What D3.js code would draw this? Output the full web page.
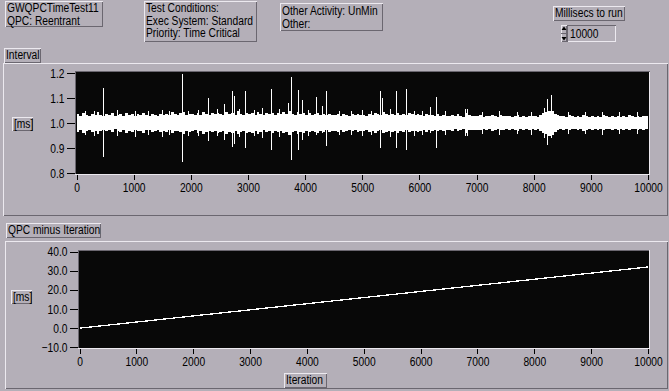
<!DOCTYPE html>
<html>
<head>
<meta charset="utf-8">
<script src="https://cdnjs.cloudflare.com/ajax/libs/d3/7.8.5/d3.min.js"></script>
<style>
  body { margin: 0; background: #b4afb8; }
  svg text { font-family: "Liberation Sans", Arial, sans-serif; font-size: 12.5px; fill: #000; }
</style>
</head>
<body>
<svg id="panel" width="669" height="391"></svg>
<script>
// ---- chart values ----
var iterTicks = [0, 1000, 2000, 3000, 4000, 5000, 6000, 7000, 8000, 9000, 10000];
var intervalTicks = [0.8, 0.9, 1.0, 1.1, 1.2];
var qpcTicks = [-10, 0, 10, 20, 30, 40];

// noise band of the Interval trace, one high/low pair per 50 iterations
var bandStep = 50;
var bandHigh = [
  1.036,1.030,1.041,1.033,1.028,1.038,1.032,1.044,1.034,1.029,
  1.035,1.031,1.039,1.027,1.034,1.037,1.030,1.042,1.033,1.036,
  1.029,1.035,1.032,1.040,1.031,1.028,1.037,1.033,1.030,1.036,
  1.034,1.038,1.031,1.043,1.035,1.032,1.039,1.046,1.033,1.037,
  1.035,1.031,1.040,1.034,1.044,1.036,1.032,1.039,1.035,1.041,
  1.038,1.033,1.045,1.036,1.041,1.034,1.047,1.037,1.032,1.042,
  1.036,1.040,1.033,1.044,1.037,1.031,1.039,1.035,1.042,1.034,
  1.039,1.035,1.043,1.036,1.048,1.038,1.033,1.044,1.037,1.041,
  1.034,1.039,1.032,1.037,1.042,1.033,1.038,1.031,1.036,1.034,
  1.032,1.036,1.030,1.038,1.033,1.029,1.035,1.031,1.037,1.033,
  1.034,1.030,1.037,1.033,1.040,1.035,1.031,1.043,1.036,1.032,
  1.038,1.034,1.041,1.033,1.036,1.031,1.039,1.035,1.032,1.037,
  1.033,1.029,1.036,1.031,1.034,1.030,1.035,1.028,1.032,1.030,
  1.029,1.032,1.027,1.035,1.030,1.026,1.040,1.031,1.028,1.030,
  1.028,1.031,1.026,1.030,1.027,1.033,1.029,1.025,1.031,1.028,
  1.027,1.030,1.025,1.029,1.032,1.026,1.028,1.024,1.030,1.027,
  1.029,1.026,1.033,1.040,1.046,1.050,1.048,1.038,1.031,1.027,
  1.029,1.025,1.031,1.027,1.024,1.030,1.026,1.032,1.028,1.025,
  1.030,1.026,1.029,1.024,1.031,1.027,1.025,1.030,1.026,1.028,
  1.025,1.029,1.026,1.031,1.027,1.024,1.030,1.026,1.029,1.027];
var bandLow = [
  0.966,0.972,0.962,0.969,0.974,0.964,0.970,0.958,0.968,0.973,
  0.967,0.971,0.963,0.975,0.968,0.965,0.972,0.960,0.969,0.966,
  0.973,0.967,0.970,0.962,0.971,0.974,0.965,0.969,0.972,0.966,
  0.968,0.964,0.971,0.959,0.967,0.970,0.963,0.956,0.969,0.965,
  0.967,0.971,0.962,0.968,0.958,0.966,0.970,0.963,0.967,0.961,
  0.964,0.969,0.957,0.966,0.961,0.968,0.955,0.965,0.970,0.960,
  0.966,0.962,0.969,0.958,0.965,0.971,0.963,0.967,0.960,0.968,
  0.963,0.967,0.959,0.966,0.954,0.964,0.969,0.958,0.965,0.961,
  0.968,0.963,0.970,0.965,0.960,0.969,0.964,0.971,0.966,0.968,
  0.970,0.966,0.972,0.964,0.969,0.973,0.967,0.971,0.965,0.969,
  0.968,0.972,0.965,0.969,0.962,0.967,0.971,0.959,0.966,0.970,
  0.964,0.968,0.961,0.969,0.966,0.971,0.963,0.967,0.970,0.965,
  0.969,0.973,0.966,0.971,0.968,0.972,0.967,0.974,0.970,0.972,
  0.973,0.970,0.975,0.967,0.972,0.976,0.962,0.971,0.974,0.972,
  0.974,0.971,0.976,0.972,0.975,0.969,0.973,0.977,0.971,0.974,
  0.975,0.972,0.977,0.973,0.970,0.976,0.974,0.978,0.972,0.975,
  0.973,0.976,0.969,0.962,0.955,0.950,0.953,0.963,0.971,0.975,
  0.973,0.977,0.971,0.975,0.978,0.972,0.976,0.970,0.974,0.977,
  0.972,0.976,0.973,0.978,0.971,0.975,0.977,0.972,0.976,0.974,
  0.977,0.973,0.976,0.971,0.975,0.978,0.972,0.976,0.973,0.975];

// single-iteration spikes: where, how high, how low
var spikeIter = [150, 300, 460, 700, 1030, 1250, 1500, 1620, 1841, 1950, 2120, 2296, 2450, 2576,
  2715, 2762, 2850, 2942, 3100, 3250, 3403, 3550, 3701, 3747, 3869, 3939, 4050, 4184, 4295,
  4365, 4600, 4800, 5000, 5150, 5315, 5350, 5480, 5583, 5764, 5900, 6050, 6177, 6282, 6450,
  6790, 6840, 7100, 7400, 7700, 7950, 8180, 8240, 8310, 8600, 8900, 9200, 9500, 9800];
var spikeHigh = [1.050, 1.048, 1.139, 1.052, 1.050, 1.048, 1.053, 1.047, 1.196, 1.050, 1.052, 1.099, 1.055, 1.075,
  1.128, 1.109, 1.058, 1.128, 1.052, 1.060, 1.136, 1.055, 1.079, 1.184, 1.131, 1.092, 1.052, 1.104, 1.070,
  1.128, 1.050, 1.048, 1.052, 1.050, 1.128, 1.099, 1.055, 1.128, 1.136, 1.050, 1.048, 1.065, 1.104, 1.048,
  1.056, 1.058, 1.045, 1.047, 1.044, 1.046, 1.060, 1.095, 1.112, 1.045, 1.044, 1.046, 1.043, 1.045];
var spikeLow = [0.952, 0.950, 0.865, 0.948, 0.944, 0.952, 0.946, 0.953, 0.843, 0.950, 0.948, 0.928, 0.948, 0.932,
  0.903, 0.915, 0.945, 0.899, 0.950, 0.942, 0.892, 0.946, 0.960, 0.852, 0.892, 0.932, 0.950, 0.952, 0.960,
  0.909, 0.951, 0.953, 0.948, 0.952, 0.901, 0.960, 0.946, 0.899, 0.892, 0.950, 0.952, 0.960, 0.899, 0.952,
  0.949, 0.950, 0.955, 0.953, 0.956, 0.954, 0.940, 0.912, 0.940, 0.955, 0.956, 0.954, 0.957, 0.955];

// QPC minus Iteration drift
var qpcIter = [0, 1000, 2000, 3000, 4000, 5000, 6000, 7000, 8000, 9000, 10000];
var qpcValues = [0.0, 3.2, 6.4, 9.6, 12.8, 16.0, 19.2, 22.4, 25.6, 28.8, 32.0];

// ---- drawing ----
var BG = '#b4afb8', LIGHT = '#ece9ef', DARK = '#6b6770', SQUEEZE = 0.82;
var svg = d3.select('#panel');
svg.append('rect').attr('width', 669).attr('height', 391).attr('fill', BG);

// 3d border, raised or sunken
function bevel(x, y, w, h, raised) {
  var g = svg.append('g').attr('shape-rendering', 'crispEdges');
  var tl = raised ? LIGHT : DARK, br = raised ? DARK : LIGHT;
  g.append('path').attr('d', 'M' + (x + 0.5) + ',' + (y + h - 0.5) + 'V' + (y + 0.5) + 'H' + (x + w - 0.5))
    .attr('fill', 'none').attr('stroke', tl);
  g.append('path').attr('d', 'M' + (x + w - 0.5) + ',' + (y + 0.5) + 'V' + (y + h - 0.5) + 'H' + (x + 0.5))
    .attr('fill', 'none').attr('stroke', br);
  return g;
}

// narrow the glyphs the way the old panel font looks
function squeeze(sel) {
  sel.each(function() {
    var t = d3.select(this), x = +t.attr('x') || 0;
    t.attr('transform', 'translate(' + (x * (1 - SQUEEZE)) + ',0) scale(' + SQUEEZE + ',1)');
  });
}

function label(x, y, lines) {
  lines.forEach(function(s, i) {
    svg.append('text').attr('x', x).attr('y', y + i * 12.5).text(s).call(squeeze);
  });
}

// header boxes
bevel(5, 1, 98, 26, true);
label(7, 12.5, ['GWQPCTimeTest11', 'QPC: Reentrant']);
bevel(144, 1, 113, 41, true);
label(146, 12.5, ['Test Conditions:', 'Exec System: Standard', 'Priority: Time Critical']);
bevel(280, 3, 103, 28, true);
label(282, 15.5, ['Other Activity: UnMin', 'Other:']);
bevel(553, 6, 72, 15, true);
label(555, 17.5, ['Millisecs to run']);

// numeric control
bevel(561, 25, 6, 17, true);
svg.append('path').attr('d', 'M561.5,30 L564,26.5 L566.5,30Z M561.5,37 L564,40.5 L566.5,37Z').attr('fill', '#000');
svg.append('line').attr('x1', 561).attr('x2', 567).attr('y1', 33.5).attr('y2', 33.5).attr('stroke', DARK);
bevel(567, 25, 49, 17, false);
label(570, 38, ['10000']);

function chart(opt) {
  bevel(opt.panel[0], opt.panel[1], opt.panel[2], opt.panel[3], true);
  bevel(opt.title[0], opt.title[1], opt.title[2], 15, true);
  label(opt.title[0] + 2, opt.title[1] + 11.5, [opt.name]);
  bevel(opt.unit[0], opt.unit[1], 21, 14, true);
  label(opt.unit[0] + 2, opt.unit[1] + 11, ['[ms]']);

  var x = opt.x, y = opt.y;
  var x0 = x.range()[0] - 1, x1 = x.range()[1] + 1, yT = y.range()[1] - 1, yB = y.range()[0] + 1;
  svg.append('rect').attr('x', x0).attr('y', yT).attr('width', x1 - x0).attr('height', yB - yT)
    .attr('fill', '#080808');
  bevel(x0 - 1, yT - 1, x1 - x0 + 2, yB - yT + 2, false);

  var ya = svg.append('g').attr('transform', 'translate(' + (x0 - 1) + ',0)')
    .call(d3.axisLeft(y).tickValues(opt.yTicks).tickFormat(d3.format('.1f')).tickSize(8).tickPadding(2));
  var xa = svg.append('g').attr('transform', 'translate(0,' + (yB + 1) + ')')
    .call(d3.axisBottom(x).tickValues(iterTicks).tickFormat(d3.format('d')).tickSize(5).tickPadding(3));
  [ya, xa].forEach(function(a) {
    a.select('.domain').remove();
    a.attr('font-family', null).attr('font-size', null).attr('shape-rendering', 'crispEdges');
    a.selectAll('line').attr('stroke', '#000');
    a.selectAll('text').call(squeeze);
  });
  return svg.append('g');
}

// Interval
var xTop = d3.scaleLinear().domain([0, 10000]).range([76.5, 648]);
var yTop = d3.scaleLinear().domain([0.8, 1.2]).range([173, 73]);
var topPlot = chart({ panel: [3, 63, 665, 153], title: [4, 48, 37], name: 'Interval', unit: [12, 117],
  x: xTop, y: yTop, yTicks: intervalTicks });

var band = bandHigh.map(function(h, i) { return { it: i * bandStep, hi: h, lo: bandLow[i] }; });
band.push({ it: 10000, hi: bandHigh[bandHigh.length - 1], lo: bandLow[bandLow.length - 1] });
topPlot.append('path').datum(band)
  .attr('d', d3.area().curve(d3.curveStepAfter)
    .x(function(d) { return xTop(d.it); })
    .y0(function(d) { return yTop(d.lo); })
    .y1(function(d) { return yTop(d.hi); }))
  .attr('fill', '#fff').attr('shape-rendering', 'crispEdges');

topPlot.selectAll('line.spike').data(spikeIter).enter().append('line')
  .attr('class', 'spike')
  .attr('x1', function(d) { return Math.round(xTop(d)) + 0.5; })
  .attr('x2', function(d) { return Math.round(xTop(d)) + 0.5; })
  .attr('y1', function(d, i) { return yTop(spikeHigh[i]); })
  .attr('y2', function(d, i) { return yTop(spikeLow[i]); })
  .attr('stroke', '#fff').attr('stroke-width', 1).attr('shape-rendering', 'crispEdges');

// QPC minus Iteration
var xBot = d3.scaleLinear().domain([0, 10000]).range([79.5, 648]);
var yBot = d3.scaleLinear().domain([-10, 40]).range([347.3, 251.7]);
var botPlot = chart({ panel: [5, 241, 663, 148], title: [6, 223, 95], name: 'QPC minus Iteration', unit: [11, 290],
  x: xBot, y: yBot, yTicks: qpcTicks });
botPlot.append('path').datum(qpcValues)
  .attr('d', d3.line().x(function(d, i) { return xBot(qpcIter[i]); }).y(function(d) { return yBot(d); }))
  .attr('fill', 'none').attr('stroke', '#fff').attr('stroke-width', 1.3).attr('shape-rendering', 'crispEdges');

bevel(284, 373, 43, 15, true);
label(286, 384.5, ['Iteration']);
</script>
</body>
</html>
